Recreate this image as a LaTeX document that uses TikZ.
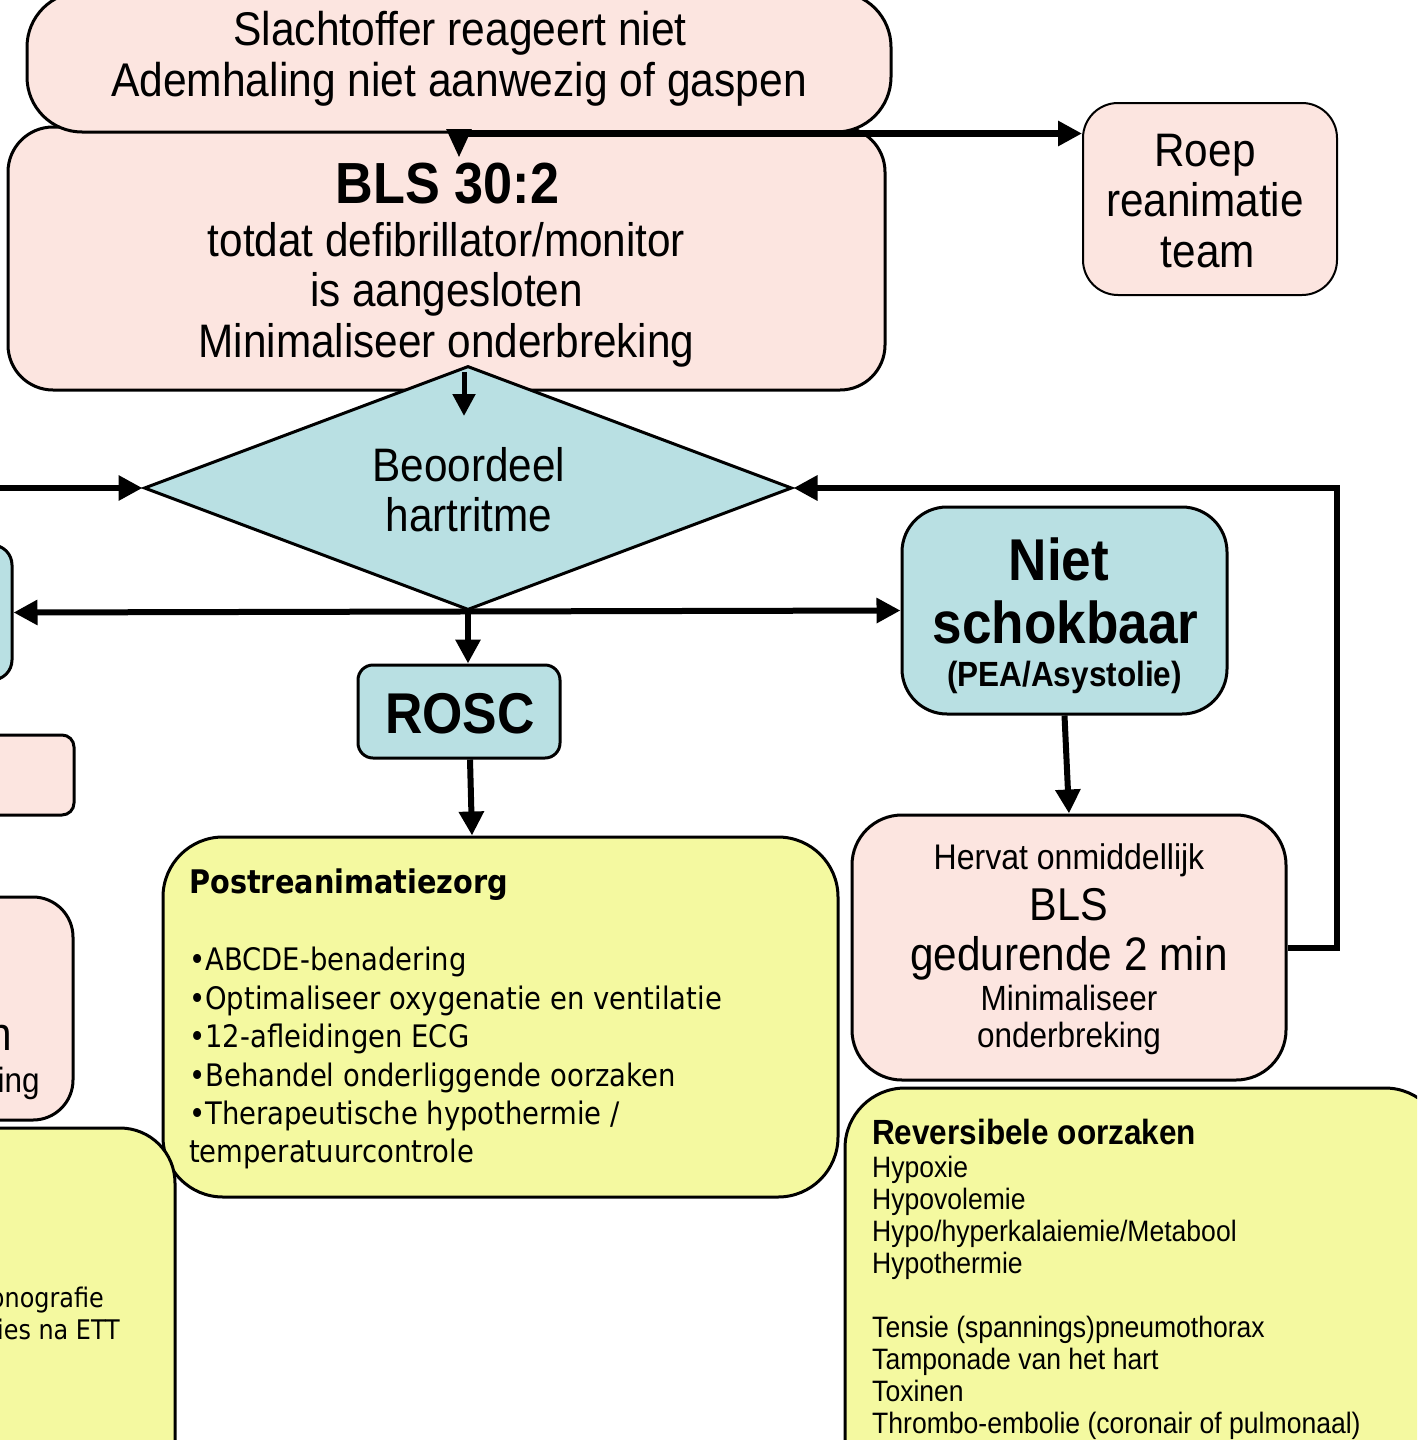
\documentclass[tikz,border=0pt]{standalone}
\usepackage{fontspec}
\setmainfont{Liberation Sans}[FakeStretch=0.9]
\newfontfamily\tah{DejaVu Sans}[FakeStretch=0.885]
\usetikzlibrary{shapes.geometric,arrows.meta}
\definecolor{pk}{RGB}{252,229,224}
\definecolor{bl}{RGB}{185,224,227}
\definecolor{yl}{RGB}{244,249,160}
\newcommand{\fs}[1]{\fontsize{#1}{#1}\selectfont}
\begin{document}
\begin{tikzpicture}[x=1pt,y=-1pt,
  rbox/.style={draw=black, line width=3pt, inner sep=0pt},
  tx/.style={anchor=base, inner sep=0pt},
  tl/.style={anchor=base west, inner sep=0pt},
  tr/.style={anchor=base east, inner sep=0pt},
  conn/.style={line width=6pt, -{Triangle[length=24pt,width=24pt]}},
  both/.style={line width=6pt, {Triangle[length=24pt,width=24pt]}-{Triangle[length=24pt,width=24pt]}}]
\useasboundingbox (0,0) rectangle (1417,1440);
\clip (0,0) rectangle (1417,1440);
% boxes
\node[rbox, fill=pk, rounded corners=45pt, minimum width=877pt, minimum height=263pt] (bls) at (446.5,258.5) {};
\node[rbox, fill=pk, rounded corners=55pt, minimum width=864pt, minimum height=140pt] (top) at (459,62) {};
\node[rbox, line width=2pt, fill=pk, rounded corners=35pt, minimum width=254pt, minimum height=192pt] (roep) at (1210,199) {};
\node[diamond, draw=black, line width=3pt, fill=bl, minimum width=648pt, minimum height=244pt, inner sep=0pt, aspect=2.65] (dia) at (468,488) {};
\node[rbox, fill=bl, rounded corners=45pt, minimum width=325pt, minimum height=207pt] (niet) at (1064.5,610.5) {};
\node[rbox, fill=bl, rounded corners=15pt, minimum width=202pt, minimum height=93pt] (rosc) at (459,711.5) {};
\node[rbox, fill=pk, rounded corners=50pt, minimum width=434pt, minimum height=265pt] (hervat) at (1069,947.5) {};
\node[rbox, fill=yl, rounded corners=60pt, minimum width=675pt, minimum height=360pt] (post) at (500.5,1017) {};
\node[rbox, fill=yl, rounded corners=60pt, minimum width=600pt, minimum height=412pt] (rev) at (1145,1294) {};
\node[rbox, fill=bl, rounded corners=20pt, minimum width=325pt, minimum height=135pt] (lblue) at (-150.5,612.5) {};
\node[rbox, fill=pk, rounded corners=12pt, minimum width=374pt, minimum height=80pt] (lpink) at (-113,775) {};
\node[rbox, fill=pk, rounded corners=40pt, minimum width=434pt, minimum height=223pt] (lherv) at (-144,1008.5) {};
\node[rbox, fill=yl, rounded corners=55pt, minimum width=575pt, minimum height=392pt] (lyel) at (-112.5,1324) {};
% texts
\node[tx, font=\fs{47.3}] (t1) at (460,45) {Slachtoffer reageert niet};
\node[tx, font=\fs{47.3}] (t2) at (459,96) {Ademhaling niet aanwezig of gaspen};
\node[tx, font=\bfseries\fs{58}] (b1) at (447.5,203) {BLS 30:2};
\node[tx, font=\fs{47}] (b2) at (446.5,256) {totdat defibrillator/monitor};
\node[tx, font=\fs{47}] (b3) at (446.5,306) {is aangesloten};
\node[tx, font=\fs{47}] (b4) at (446.5,357) {Minimaliseer onderbreking};
\node[tx, font=\fs{47}] (r1) at (1205,166) {Roep};
\node[tx, font=\fs{47}] (r2) at (1205,216) {reanimatie};
\node[tx, font=\fs{47}] (r3) at (1208,267) {team};
\node[tx, font=\fs{47}] (d1) at (469,481) {Beoordeel};
\node[tx, font=\fs{47}] (d2) at (469,531) {hartritme};
\node[tx, font=\bfseries\fs{59}] (n1) at (1059,580) {Niet};
\node[tx, font=\bfseries\fs{59}] (n2) at (1065.5,643) {schokbaar};
\node[tx, font=\bfseries\fs{35}] (n3) at (1064.5,686) {(PEA/Asystolie)};
\node[tx, font=\bfseries\fs{57.5}] (ro) at (460,733) {ROSC};
\node[tx, font=\fs{35.6}] (h1) at (1069,869) {Hervat onmiddellijk};
\node[tx, font=\fs{46}] (h2) at (1069,920) {BLS};
\node[tx, font=\fs{47}] (h3) at (1069,970) {gedurende 2 min};
\node[tx, font=\fs{35}] (h4) at (1069,1010) {Minimaliseer};
\node[tx, font=\fs{35}] (h5) at (1069,1047) {onderbreking};
\node[tl, font=\tah\bfseries\fs{32.5}] (p0) at (189,893) {Postreanimatiezorg};
\node[tl, font=\tah\fs{31}] (p1) at (189,970) {•ABCDE-benadering};
\node[tl, font=\tah\fs{31}] (p2) at (189,1009) {•Optimaliseer oxygenatie en ventilatie};
\node[tl, font=\tah\fs{31}] (p3) at (189,1047) {•12-afleidingen ECG};
\node[tl, font=\tah\fs{31}] (p4) at (189,1086) {•Behandel onderliggende oorzaken};
\node[tl, font=\tah\fs{31}] (p5) at (189,1124) {•Therapeutische hypothermie /};
\node[tl, font=\tah\fs{31}] (p6) at (189,1162) {temperatuurcontrole};
\node[tl, font=\bfseries\fs{35}] (v0) at (872,1144) {Reversibele oorzaken};
\node[tl, font=\fs{29.5}] (v1) at (872,1177) {Hypoxie};
\node[tl, font=\fs{29.5}] (v2) at (872,1209) {Hypovolemie};
\node[tl, font=\fs{29.5}] (v3) at (872,1241) {Hypo/hyperkalaiemie/Metabool};
\node[tl, font=\fs{29.5}] (v4) at (872,1273) {Hypothermie};
\node[tl, font=\fs{29.5}] (v5) at (872,1337) {Tensie (spannings)pneumothorax};
\node[tl, font=\fs{29.5}] (v6) at (872,1369) {Tamponade van het hart};
\node[tl, font=\fs{29.5}] (v7) at (872,1401) {Toxinen};
\node[tl, font=\fs{29.5}] (v8) at (872,1433) {Thrombo-embolie (coronair of pulmonaal)};
\node[tr, font=\fs{47}] (lh1) at (12,1050) {gedurende 2 min};
\node[tr, font=\fs{35}] (lh2) at (40,1092) {Minimaliseer onderbreking};
\node[tr, font=\tah\fs{27}] (ly1) at (104,1307) {Capnografie};
\node[tr, font=\tah\fs{27}] (ly2) at (120,1339) {compressies na ETT};
% connectors
\coordinate (blsin) at (459,157);
\coordinate (a1) at (464,372);
\coordinate (a2) at (464,416);
\coordinate (lin) at (-5,488);
\draw[line width=3pt, -{Triangle[length=28pt,width=25pt]}] (top.south) -- (blsin);
\draw[line width=7pt, -{Triangle[length=24pt,width=24pt]}] (top.south) -- (top.south -| roep.west);
\draw[line width=5pt, -{Triangle[length=22pt,width=22pt]}] (a1) -- (a2);
\draw[conn] (lin) -- (dia.west);
\draw[conn] (hervat.east) -- ++(49,0) |- (dia.east);
\draw[both] (lblue.east) -- (niet.west);
\draw[conn] (dia.south) -- (rosc.north -| dia.south);
\draw[conn] (rosc.south -| 470,0) -- (post.north -| 472,0);
\draw[conn] (niet.south) -- (hervat.north);
\end{tikzpicture}
\end{document}
